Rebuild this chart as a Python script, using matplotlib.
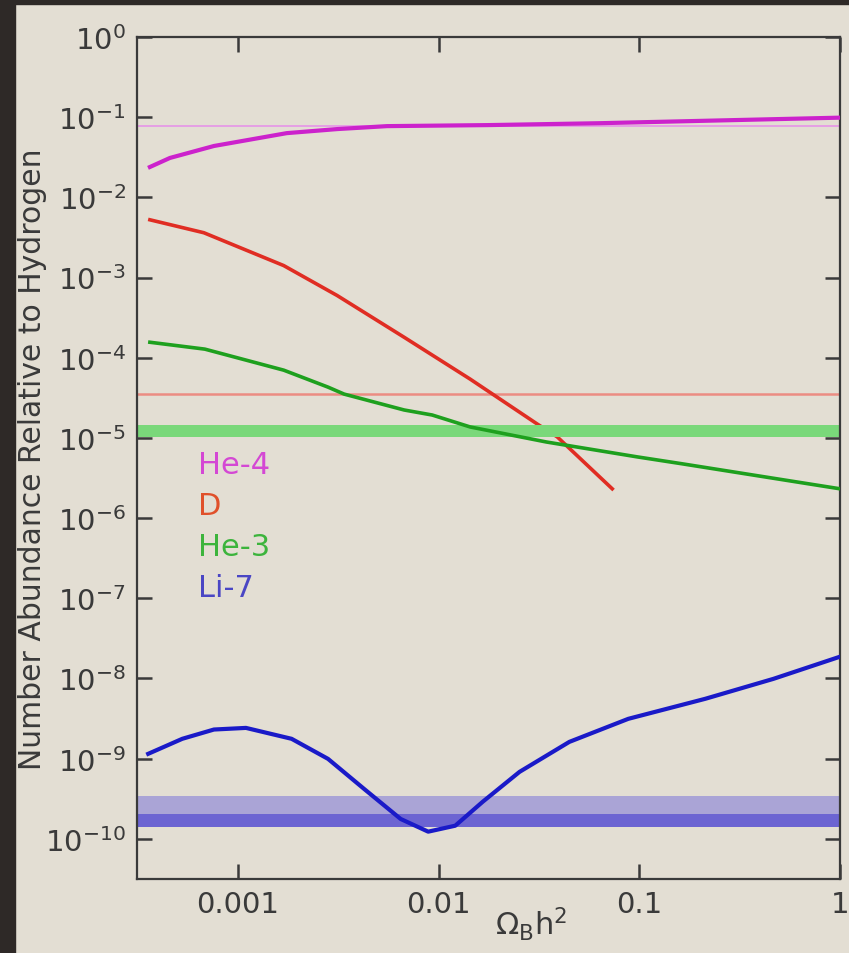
import matplotlib
matplotlib.use("Agg")
import matplotlib.pyplot as plt
from matplotlib.patches import Rectangle

# Omega_B h^2 and abundances
he4_x = [0.000364, 0.000458, 0.000759, 0.00175, 0.00312, 0.00553, 0.0175, 0.0638, 1.0]
he4_y = [0.0239, 0.031, 0.0437, 0.0632, 0.071, 0.0773, 0.0796, 0.0841, 0.0986]

d_x = [0.000364, 0.000676, 0.00169, 0.00312, 0.00673, 0.01436, 0.031, 0.039, 0.0733]
d_y = [0.00525, 0.00362, 0.00141, 0.000597, 0.00018, 5.41e-5, 1.49e-5, 1.03e-5, 2.32e-6]

he3_x = [0.000364, 0.000684, 0.00169, 0.00281, 0.00338, 0.00673, 0.00929, 0.01436,
         0.0344, 0.0977, 0.164, 1.0]
he3_y = [1.56e-4, 1.28e-4, 7.0e-5, 4.3e-5, 3.52e-5, 2.23e-5, 1.93e-5, 1.37e-5,
         8.9e-6, 5.8e-6, 4.75e-6, 2.32e-6]

li7_x = [0.000357, 0.000528, 0.000759, 0.001096, 0.00185, 0.00281, 0.00425, 0.00647,
         0.00887, 0.0121, 0.0166, 0.0253, 0.0448, 0.0881, 0.213, 0.466, 1.0]
li7_y = [1.15e-9, 1.77e-9, 2.31e-9, 2.42e-9, 1.77e-9, 9.95e-10, 4.2e-10, 1.77e-10,
         1.23e-10, 1.46e-10, 2.91e-10, 6.85e-10, 1.62e-9, 3.14e-9, 5.58e-9, 9.9e-9, 1.87e-8]

# observed values
he4_obs = 0.077
d_obs = 3.5e-5
he3_band = (1.02e-5, 1.45e-5)
li7_band_wide = (1.41e-10, 3.46e-10)
li7_band_narrow = (1.41e-10, 2.05e-10)

labels = ['He-4', 'D', 'He-3', 'Li-7']
label_colors = ['#d448d4', '#e0502a', '#3cb43c', '#4a46c4']

bg = '#e3ded3'
ink = '#3a3a3a'

plt.rcParams['font.family'] = ['DejaVu Sans']
plt.rcParams['mathtext.fontset'] = 'dejavusans'

fig = plt.figure(figsize=(8.49, 9.54), dpi=100)
fig.patch.set_facecolor(bg)
# dark slide border on the left and top
fig.add_artist(Rectangle((0, 0), 15 / 849, 1, transform=fig.transFigure, color='#2e2927', zorder=10))
fig.add_artist(Rectangle((0, 1 - 5 / 954), 1, 5 / 954, transform=fig.transFigure, color='#2e2927', zorder=10))

ax = fig.add_axes([0.1614, 0.0776, 0.828, 0.8826])
ax.set_facecolor(bg)
ax.set_xscale('log')
ax.set_yscale('log')

ax.axhline(he4_obs, color='#e69ae6', lw=1.3, zorder=1)
ax.plot(he4_x, he4_y, color='#cc22cc', lw=3, zorder=3)

ax.axhline(d_obs, color='#eb8c82', lw=1.8, zorder=1)
ax.plot(d_x, d_y, color='#e02d23', lw=2.6, zorder=2)

ax.axhspan(he3_band[0], he3_band[1], color='#7ad87a', lw=0, zorder=2.5)
ax.plot(he3_x, he3_y, color='#1ea01e', lw=2.6, zorder=3)

ax.axhspan(li7_band_wide[0], li7_band_wide[1], color='#aaa4d6', lw=0, zorder=1)
ax.axhspan(li7_band_narrow[0], li7_band_narrow[1], color='#6c64d2', lw=0, zorder=1.5)
ax.plot(li7_x, li7_y, color='#1a1ac8', lw=3, zorder=3)

ax.set_xlim(10 ** -3.503, 1.0)
ax.set_ylim(10 ** -10.5, 1.0)

ax.set_yticks([10.0 ** k for k in range(-10, 1)])
ax.set_xticks([0.001, 0.01, 0.1, 1.0])
ax.set_xticklabels(['0.001', '0.01', '0.1', '1'])
ax.minorticks_off()
ax.tick_params(which='major', direction='in', length=11, width=1.8, color=ink,
               top=True, right=True, labelsize=21, labelcolor=ink, pad=8)

for s in ax.spines.values():
    s.set_color(ink)
    s.set_linewidth(1.6)

ax.set_ylabel('Number Abundance Relative to Hydrogen', fontsize=21.5, color=ink)
ax.yaxis.set_label_coords(-0.128, 0.5)
ax.set_xlabel(r'$\mathregular{\Omega_B h^2}$', fontsize=22, color=ink)
ax.xaxis.set_label_coords(0.56, -0.030)

for i, (name, c) in enumerate(zip(labels, label_colors)):
    ax.text(0.087, 0.4917 - i * 0.0485, name, color=c, fontsize=22,
            ha='left', va='center', transform=ax.transAxes)

fig.savefig('out.png', dpi=100, facecolor=fig.get_facecolor())
